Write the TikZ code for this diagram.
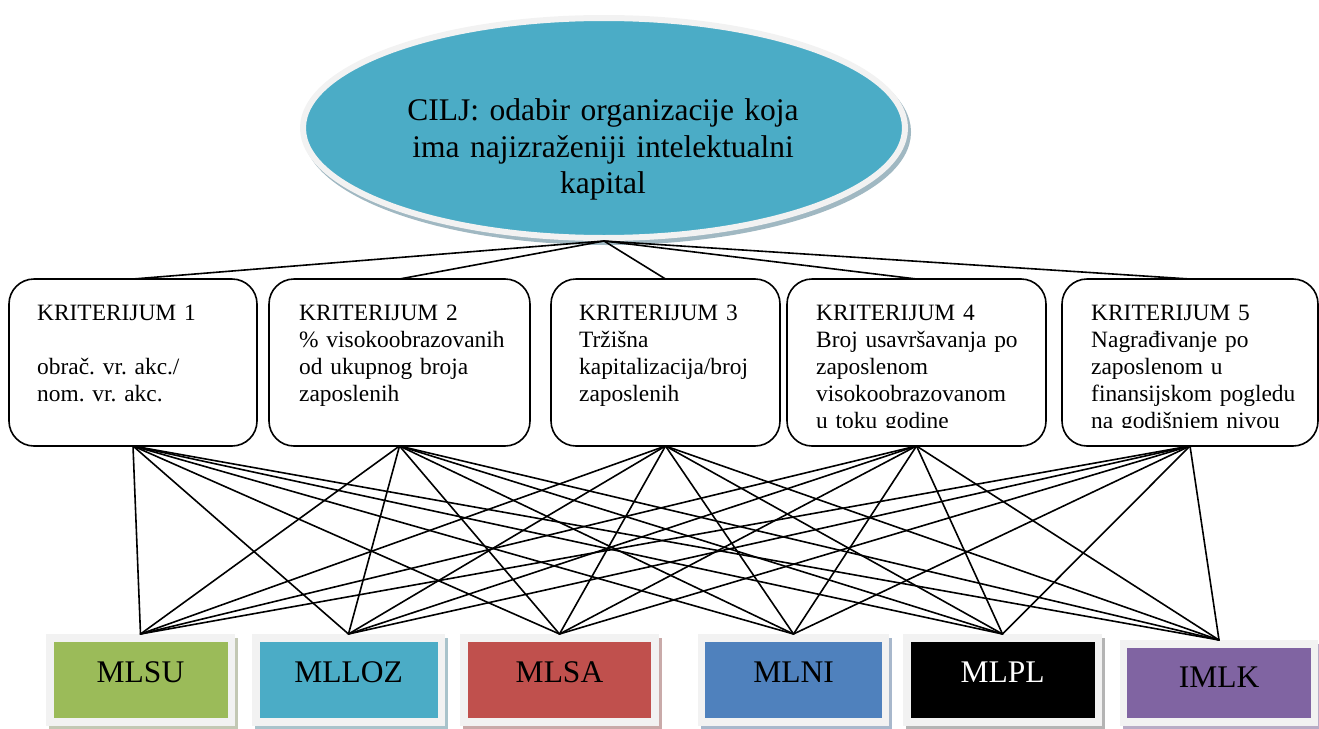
\documentclass[tikz,border=0pt]{standalone}
\usepackage{fontspec}
\setmainfont{Liberation Serif}
\usetikzlibrary{shapes.geometric}
\frenchspacing

\definecolor{ciljblue}{HTML}{4BACC6}
\definecolor{ringgray}{HTML}{F2F2F2}
\definecolor{ellshadow}{HTML}{A0B8C2}
\definecolor{cgreen}{HTML}{9BBB59}
\definecolor{cteal}{HTML}{4BACC6}
\definecolor{cred}{HTML}{C0504D}
\definecolor{cblue}{HTML}{4F81BD}
\definecolor{cpurple}{HTML}{8064A2}
\definecolor{shgreen}{HTML}{C3C8B4}
\definecolor{shteal}{HTML}{A9C3CB}
\definecolor{shred}{HTML}{C9AAA9}
\definecolor{shblue}{HTML}{A8B8CC}
\definecolor{shblack}{HTML}{B4B4B4}
\definecolor{shpurple}{HTML}{B8ACC6}

\begin{document}
\begin{tikzpicture}[x=1pt,y=-1pt,
  goal/.style={ellipse, minimum width=602pt, minimum height=220pt, inner sep=0pt,
    fill=ciljblue, draw=ringgray, line width=6pt,
    preaction={draw=ellshadow, line width=6pt, transform canvas={xshift=3pt,yshift=-4pt}}},
  goaltext/.style={anchor=base, text width=440pt, align=center, inner sep=0pt,
    font=\fontsize{31.5pt}{36.3pt}\selectfont},
  crit/.style={draw, line width=1.6pt, rounded corners=25pt, minimum height=167pt,
    inner sep=0pt, outer sep=0pt},
  crittext/.style={anchor=base west, text width=250pt, align=left, inner sep=0pt,
    font=\fontsize{23.4pt}{27pt}\selectfont},
  frame/.style={fill=ringgray, inner sep=0pt, outer sep=0pt,
    preaction={fill=#1, transform canvas={xshift=3pt,yshift=-4pt}}},
  alt/.style={inner sep=0pt, outer sep=0pt, text height=20pt, text depth=16pt,
    font=\fontsize{31.5pt}{36pt}\selectfont},
  conn/.style={line width=1.6pt, line cap=round}]

\useasboundingbox (0,0) rectangle (1319,728);

% goal
\node[goal] (goal) at (604,128) {};
\node[goaltext] (goaltxt) at (603,120.7)
  {CILJ: odabir organizacije koja\\ima najizraženiji intelektualni\\kapital};

% criteria
\node[crit, minimum width=248pt] (k1) at (133,362.5) {};
\node[crit, minimum width=261pt] (k2) at (399.5,362.5) {};
\node[crit, minimum width=229pt] (k3) at (665.5,362.5) {};
\node[crit, minimum width=259pt] (k4) at (916.5,362.5) {};
\node[crit, minimum width=256pt] (k5) at (1190,362.5) {};

\begin{scope}
  \clip (0,0) rectangle (1319,427);
  \node[crittext] (t1) at (37,320) {KRITERIJUM 1\\[27pt]obrač. vr. akc./\\nom. vr. akc.};
  \node[crittext] (t2) at (299,320) {KRITERIJUM 2\\\% visokoobrazovanih\\od ukupnog broja\\zaposlenih};
  \node[crittext] (t3) at (579,320) {KRITERIJUM 3\\Tržišna\\kapitalizacija/broj\\zaposlenih};
  \node[crittext] (t4) at (816,320) {KRITERIJUM 4\\Broj usavršavanja po\\zaposlenom\\visokoobrazovanom\\u toku godine};
  \node[crittext] (t5) at (1091,320) {KRITERIJUM 5\\Nagrađivanje po\\zaposlenom u\\finansijskom pogledu\\na godišnjem nivou};
\end{scope}

% alternatives
\node[frame=shgreen, minimum width=189pt, minimum height=92pt] (mlsu) at (140.5,680) {};
\node[alt, fill=cgreen, minimum width=174pt, minimum height=76pt] (mlsu-in) at (mlsu.center) {MLSU};

\node[frame=shteal, minimum width=193pt, minimum height=92pt] (mlloz) at (348.5,680) {};
\node[alt, fill=cteal, minimum width=178pt, minimum height=76pt] (mlloz-in) at (mlloz.center) {MLLOZ};

\node[frame=shred, minimum width=199pt, minimum height=92pt] (mlsa) at (559.5,680) {};
\node[alt, fill=cred, minimum width=183pt, minimum height=76pt] (mlsa-in) at (mlsa.center) {MLSA};

\node[frame=shblue, minimum width=191pt, minimum height=92pt] (mlni) at (793.5,680) {};
\node[alt, fill=cblue, minimum width=176.5pt, minimum height=76pt] (mlni-in) at (mlni.center) {MLNI};

\node[frame=shblack, minimum width=199pt, minimum height=92pt] (mlpl) at (1002.5,680) {};
\node[alt, fill=black, text=white, minimum width=184pt, minimum height=76pt] (mlpl-in) at (mlpl.center) {MLPL};

\node[frame=shpurple, minimum width=198pt, minimum height=86pt] (imlk) at (1219,683) {};
\node[alt, fill=cpurple, text height=22pt, text depth=14pt, minimum width=184pt, minimum height=70pt] (imlk-in) at (imlk.center) {IMLK};

% connectors
\foreach \k in {k1,k2,k3,k4,k5}
  \draw[conn] (goal.south) -- (\k.north);
\foreach \k in {k1,k2,k3,k4,k5}
  \foreach \b in {mlsu,mlloz,mlsa,mlni,mlpl,imlk}
    \draw[conn] (\k.south) -- (\b.north);
\end{tikzpicture}
\end{document}
